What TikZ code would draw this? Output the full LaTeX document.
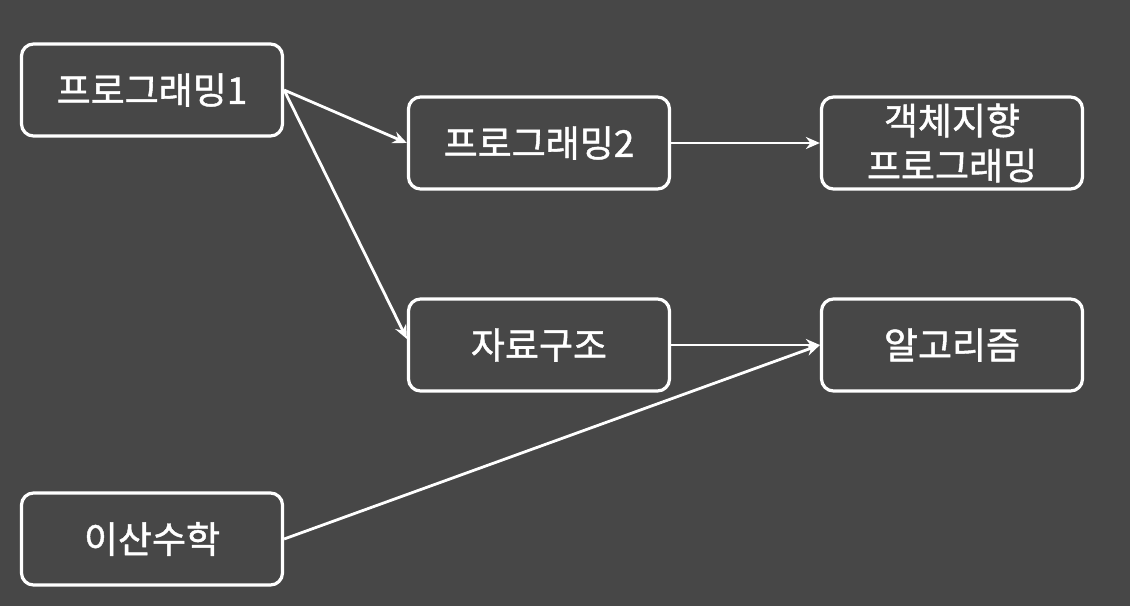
\documentclass[tikz,border=0pt]{standalone}
\usepackage{fontspec}
\setmainfont{Noto Sans CJK KR}[FakeBold=1.2]
\usetikzlibrary{arrows.meta}
\definecolor{bg}{HTML}{474747}
\tikzset{
  course/.style={draw=white, line width=3.2pt, rounded corners=12pt, minimum width=261pt, minimum height=92pt, text=white, font=\fontsize{37}{45}\selectfont, align=center, inner sep=0pt},
  link/.style={draw=white, line width=2.8pt, -{Stealth[length=14pt,width=12pt]}}
}
\begin{document}
\begin{tikzpicture}[x=1pt,y=-1pt]
\fill[bg] (0,0) rectangle (1130,606);
\useasboundingbox (0,0) rectangle (1130,606);
\node[course] (p1) at (152,90) {프로그래밍1};
\node[course] (p2) at (539,143) {프로그래밍2};
\node[course] (oop) at (952,143) {객체지향\\프로그래밍};
\node[course] (ds) at (539,345) {자료구조};
\node[course] (alg) at (952,345) {알고리즘};
\node[course] (dm) at (152,539) {이산수학};
\draw[link] (p1.east) -- (p2.west);
\draw[link] (p1.east) -- ([yshift=6pt]ds.west);
\draw[link] (p2.east) -- (oop.west);
\draw[link] (ds.east) -- (alg.west);
\draw[link] (dm.east) -- (alg.west);
\end{tikzpicture}
\end{document}
